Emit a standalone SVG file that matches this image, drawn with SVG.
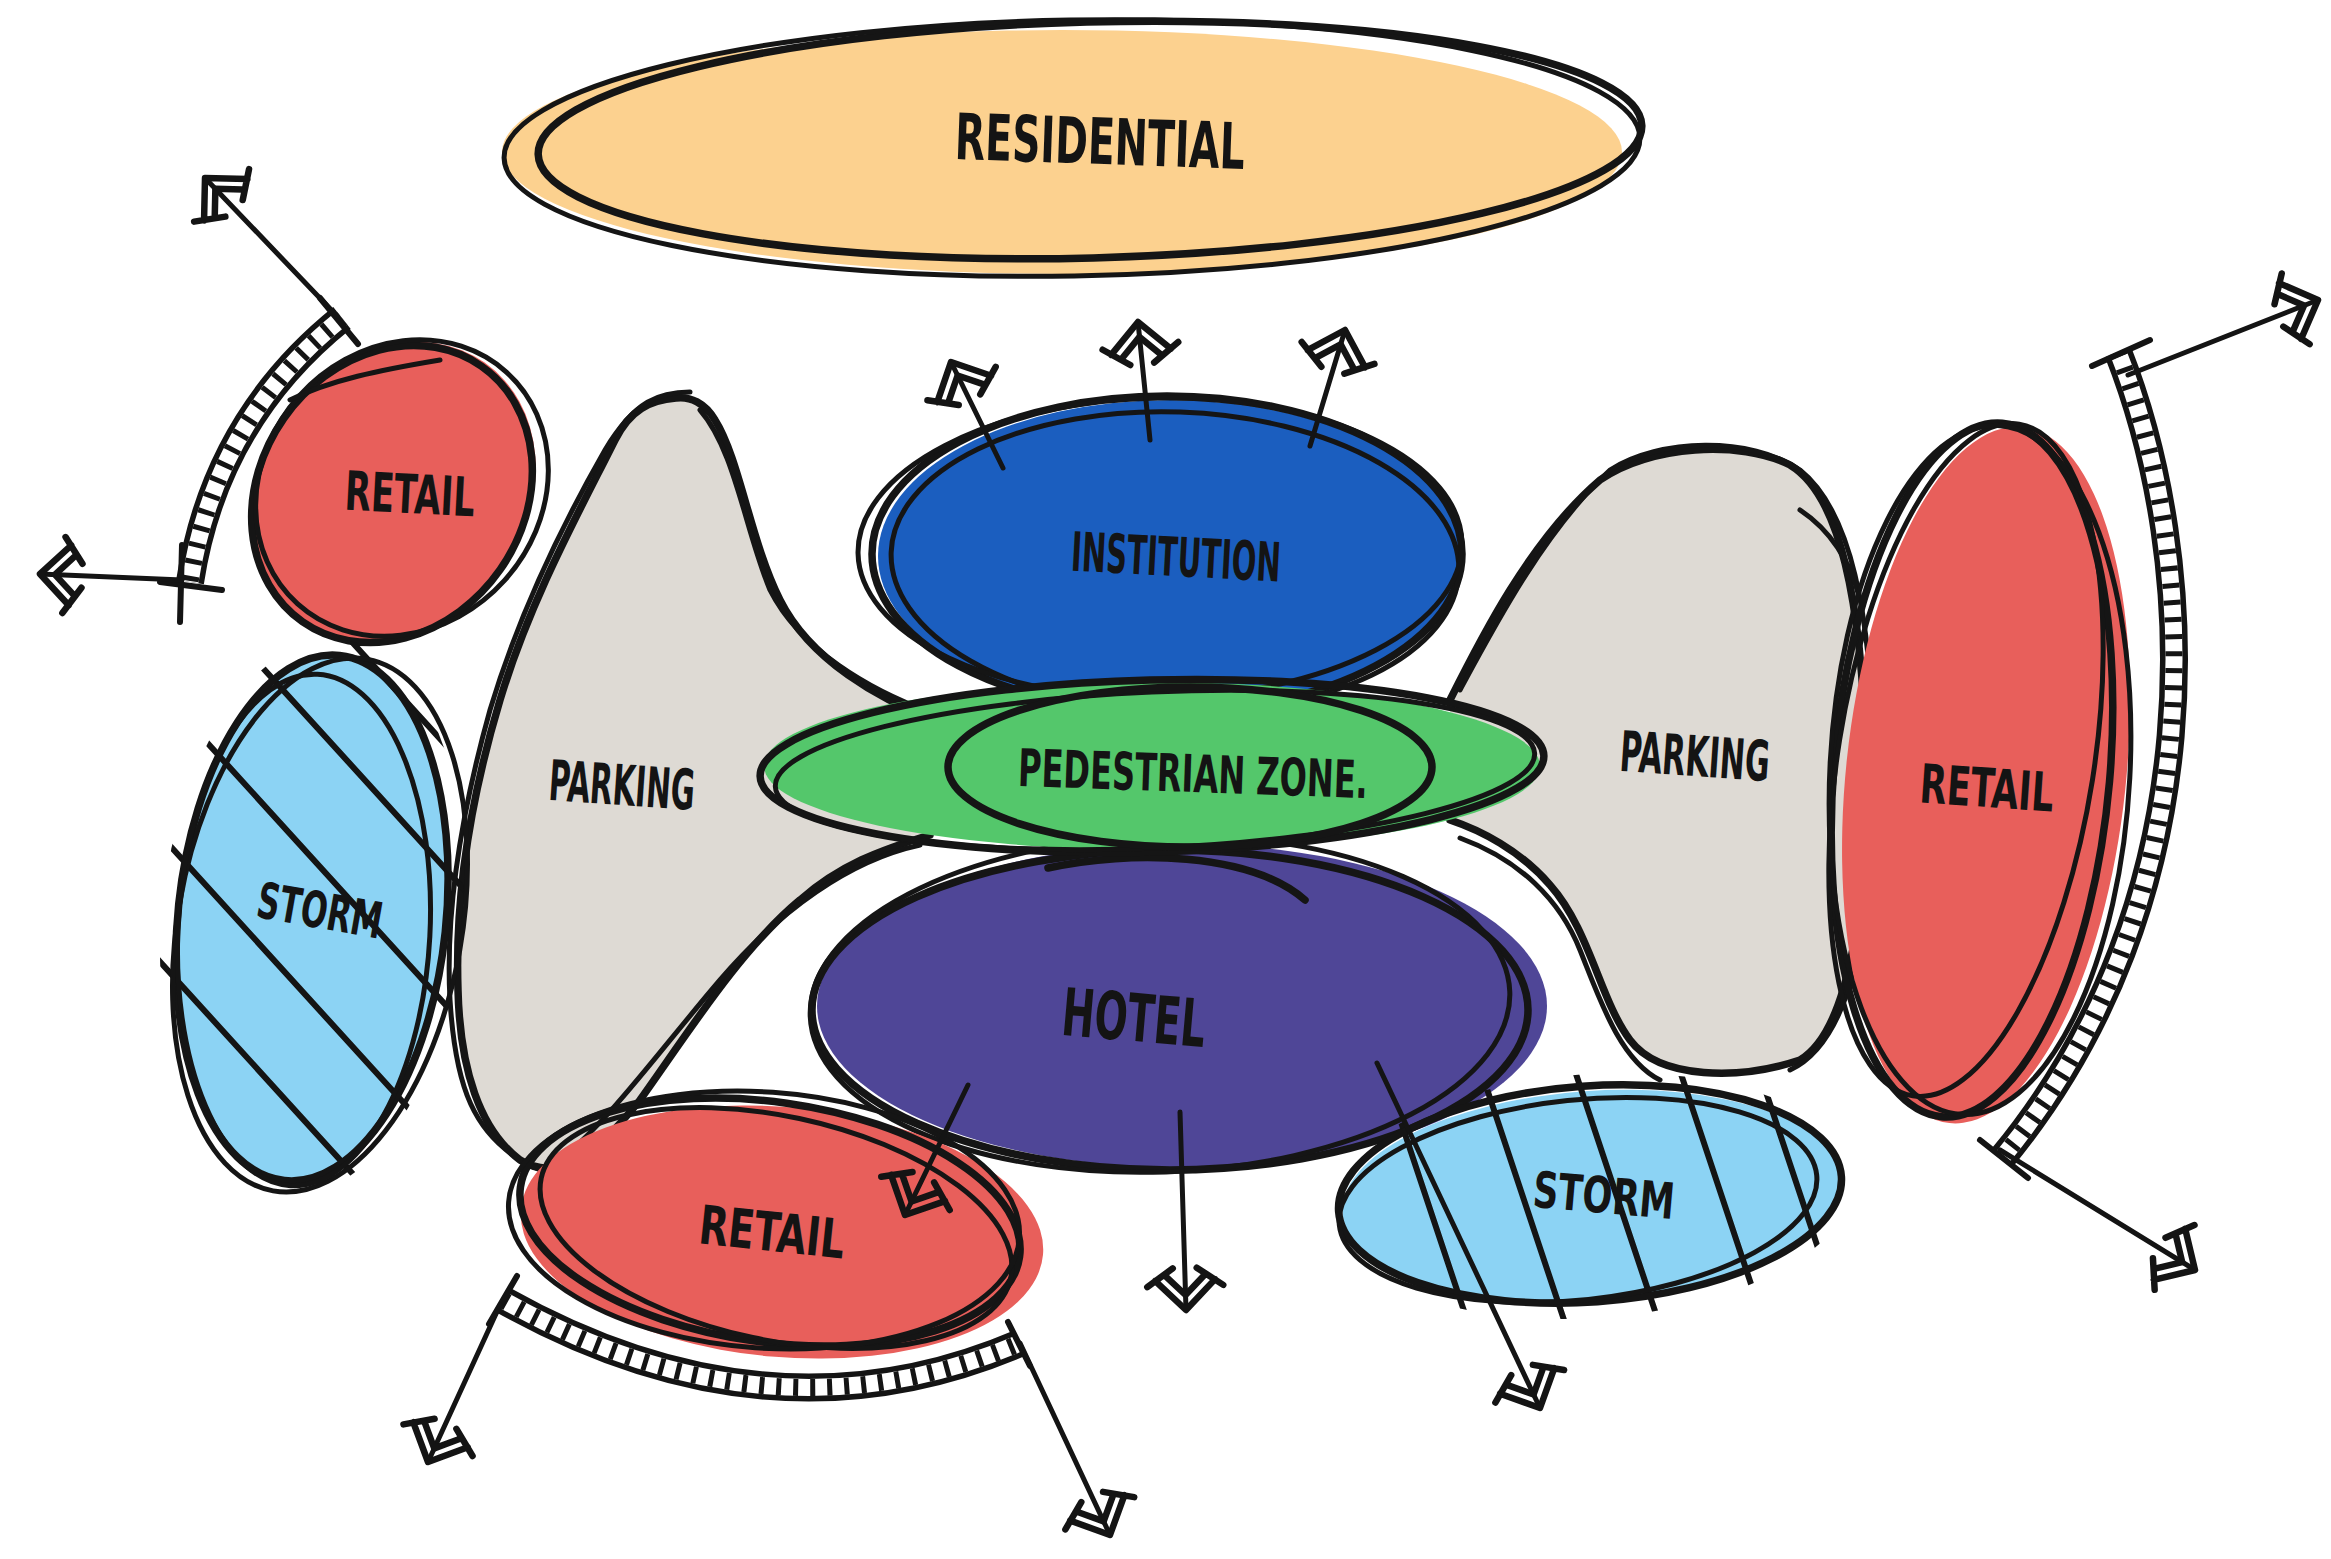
<svg xmlns="http://www.w3.org/2000/svg" width="2331" height="1559" viewBox="0 0 2331 1559">
<style>
.o{fill:none;stroke:#151515;stroke-width:7.5;stroke-linecap:round}
.o2{fill:none;stroke:#151515;stroke-width:5;stroke-linecap:round}
.lbl{font-family:"DejaVu Sans Condensed","DejaVu Sans",sans-serif;font-weight:bold;fill:#141414;text-anchor:middle}
.cn{stroke:#141414;stroke-width:5;fill:none;stroke-linecap:round;marker-end:url(#ah)}
.hl{stroke:#141414;stroke-width:6;stroke-linecap:round}
.r1{fill:none;stroke:#141414;stroke-width:28}
.r2{fill:none;stroke:#ffffff;stroke-width:17}
.r3{fill:none;stroke:#141414;stroke-width:17;stroke-dasharray:5 12}
.bar{stroke:#141414;stroke-width:6;stroke-linecap:round}
.red{fill:#E85F5B}
.blu{fill:#8CD3F4}
.gry{fill:#DEDAD4}
</style>
<defs>
<marker id="ah" markerUnits="userSpaceOnUse" markerWidth="100" markerHeight="100" viewBox="-50 -50 100 100" refX="0" refY="0" orient="auto" overflow="visible">
<path d="M -30 -30 L 0 0 L -30 30 M -15 0 L -34 -19 M -15 0 L -34 19 M -42 -12 L -24 -38 M -42 12 L -24 38" fill="none" stroke="#141414" stroke-width="6.5" stroke-linecap="round" stroke-linejoin="round"/>
</marker>
<clipPath id="clipSL"><ellipse cx="312" cy="918" rx="150" ry="280" transform="rotate(6 312 918)"/></clipPath>
<clipPath id="clipSB"><ellipse cx="1592" cy="1196" rx="262" ry="122" transform="rotate(-4 1592 1196)"/></clipPath>
<path id="arcL" d="M 342 318 Q 215 420 190 582"/>
<path id="arcR" d="M 2118 352 C 2200 560 2215 900 2002 1158"/>
<path id="arcB" d="M 503 1300 Q 770 1450 1020 1343"/>
</defs>
<rect width="2331" height="1559" fill="#ffffff"/>

<g id="residential">
<ellipse cx="1062" cy="152" rx="560" ry="122" fill="#FCD18F"/>
<ellipse class="o" cx="1090" cy="140" rx="552" ry="118" transform="rotate(-1.5 1090 140)"/>
<ellipse class="o2" cx="1072" cy="148" rx="568" ry="128" transform="rotate(-1 1072 148)"/>
<text class="lbl" x="1100" y="164" font-size="64" textLength="290" lengthAdjust="spacingAndGlyphs" transform="rotate(2 1100 141)">RESIDENTIAL</text>
</g>

<g id="parking-left">
<path class="gry" d="M 676 398 C 650 400 630 410 615 440 C 580 510 530 600 500 700 C 470 800 455 900 458 990 C 460 1070 480 1130 520 1160 C 560 1185 600 1150 640 1100 C 690 1030 740 950 800 900 C 840 865 880 850 930 835 L 935 720 C 880 700 810 660 780 600 C 750 540 740 460 715 420 C 705 403 690 396 676 398 Z"/>
<path class="o" d="M 676 398 C 650 400 630 410 615 440 C 580 510 530 600 500 700 C 470 800 455 900 458 990 C 460 1070 480 1130 520 1160 C 560 1185 600 1150 640 1100 C 690 1030 740 950 800 900 C 840 865 880 850 930 835 M 935 720 C 880 700 810 660 780 600 C 750 540 740 460 715 420 C 705 403 690 396 676 398"/>
<path class="o2" d="M 690 392 C 660 392 635 400 605 450 C 565 520 520 610 490 710 C 462 810 445 910 450 1000 C 455 1080 470 1140 540 1170 M 560 1160 C 610 1120 660 1050 720 980 C 780 910 850 860 920 845 M 930 712 C 870 690 800 650 770 590 C 745 530 735 450 700 410"/>
<text class="lbl" x="622" y="805" font-size="56" textLength="146" lengthAdjust="spacingAndGlyphs" transform="rotate(4 622 785)">PARKING</text>
</g>

<g id="parking-right">
<path class="gry" d="M 1450 700 C 1480 640 1530 540 1600 480 C 1650 445 1740 440 1790 465 C 1840 495 1862 600 1866 760 C 1868 900 1850 1030 1800 1060 C 1740 1080 1660 1080 1630 1040 C 1600 1000 1590 930 1550 885 C 1520 850 1480 830 1450 820 Z"/>
<path class="o" d="M 1450 700 C 1480 640 1530 540 1600 480 C 1650 445 1740 440 1790 465 C 1840 495 1862 600 1866 760 C 1868 900 1850 1030 1800 1060 C 1740 1080 1660 1080 1630 1040 C 1600 1000 1590 930 1550 885 C 1520 850 1480 830 1450 820"/>
<path class="o2" d="M 1460 690 C 1495 625 1545 530 1610 470 C 1660 438 1750 436 1800 470 C 1850 510 1872 610 1874 770 C 1874 910 1855 1040 1790 1070 M 1800 510 C 1830 530 1850 560 1860 600 M 1660 1080 C 1620 1060 1600 1000 1580 950 C 1560 900 1520 860 1460 838"/>
<text class="lbl" x="1695" y="776" font-size="56" textLength="150" lengthAdjust="spacingAndGlyphs" transform="rotate(4 1695 756)">PARKING</text>
</g>

<g id="retail-tl">
<ellipse class="red" cx="394" cy="492" rx="158" ry="133" transform="rotate(-55 394 492)"/>
<ellipse class="o" cx="392" cy="494" rx="156" ry="132" transform="rotate(-55 392 494)"/>
<ellipse class="o2" cx="402" cy="488" rx="156" ry="138" transform="rotate(-48 402 488)"/>
<path class="o2" d="M 290 400 C 330 380 380 370 440 360"/>
<text class="lbl" x="410" y="513" font-size="54" textLength="130" lengthAdjust="spacingAndGlyphs" transform="rotate(3 410 494)">RETAIL</text>
</g>

<g id="storm-left">
<ellipse class="blu" cx="312" cy="918" rx="134" ry="264" transform="rotate(6 312 918)"/>
<g clip-path="url(#clipSL)">
<line class="hl" x1="142" y1="411" x2="482" y2="785"/>
<line class="hl" x1="142" y1="535" x2="482" y2="909"/>
<line class="hl" x1="142" y1="671" x2="482" y2="1045"/>
<line class="hl" x1="142" y1="815" x2="482" y2="1189"/>
<line class="hl" x1="142" y1="942" x2="482" y2="1316"/>
</g>
<ellipse class="o" cx="312" cy="918" rx="134" ry="264" transform="rotate(6 312 918)"/>
<ellipse class="o2" cx="320" cy="925" rx="142" ry="270" transform="rotate(10 320 925)"/>
<ellipse class="o2" cx="304" cy="930" rx="126" ry="256" transform="rotate(3 304 930)"/>
<text class="lbl" x="320" y="928" font-size="50" textLength="126" lengthAdjust="spacingAndGlyphs" transform="rotate(10 320 910)">STORM</text>
</g>

<g id="institution">
<ellipse cx="1170" cy="556" rx="292" ry="156" fill="#1B5EBF"/>
<ellipse class="o" cx="1167" cy="554" rx="295" ry="158"/>
<ellipse class="o2" cx="1175" cy="562" rx="284" ry="150" transform="rotate(2 1175 562)"/>
<ellipse class="o2" cx="1160" cy="548" rx="302" ry="150" transform="rotate(-1 1160 548)"/>
<text class="lbl" x="1176" y="576" font-size="54" textLength="210" lengthAdjust="spacingAndGlyphs" transform="rotate(3 1176 557)">INSTITUTION</text>
</g>

<g id="hotel">
<ellipse cx="1182" cy="1006" rx="365" ry="162" fill="#4F4697"/>
<ellipse class="o" cx="1170" cy="1010" rx="358" ry="160"/>
<ellipse class="o2" cx="1160" cy="1004" rx="350" ry="168" transform="rotate(-2 1160 1004)"/>
<path class="o" d="M 1048 868 C 1130 850 1250 852 1305 900"/>
<text class="lbl" x="1134" y="1041" font-size="66" textLength="144" lengthAdjust="spacingAndGlyphs" transform="rotate(5 1134 1017)">HOTEL</text>
</g>

<g id="pedestrian-zone">
<ellipse cx="1152" cy="766" rx="388" ry="84" fill="#54C76B"/>
<ellipse class="o" cx="1152" cy="766" rx="392" ry="86" transform="rotate(-1.5 1152 766)"/>
<ellipse class="o2" cx="1155" cy="770" rx="380" ry="78" transform="rotate(-2.5 1155 770)"/>
<ellipse class="o" cx="1190" cy="767" rx="242" ry="80"/>
<text class="lbl" x="1193" y="792" font-size="52" textLength="350" lengthAdjust="spacingAndGlyphs" transform="rotate(2 1193 773)">PEDESTRIAN ZONE.</text>
</g>

<g id="retail-bottom">
<ellipse class="red" cx="782" cy="1232" rx="262" ry="125" transform="rotate(5 782 1232)"/>
<ellipse class="o" cx="770" cy="1222" rx="252" ry="120" transform="rotate(8 770 1222)"/>
<ellipse class="o2" cx="776" cy="1228" rx="240" ry="112" transform="rotate(12 776 1228)"/>
<ellipse class="o2" cx="764" cy="1220" rx="256" ry="128" transform="rotate(4 764 1220)"/>
<text class="lbl" x="772" y="1251" font-size="54" textLength="146" lengthAdjust="spacingAndGlyphs" transform="rotate(6 772 1232)">RETAIL</text>
</g>

<g id="retail-right">
<ellipse class="red" cx="1986" cy="775" rx="140" ry="350" transform="rotate(6 1986 775)"/>
<ellipse class="o" cx="1972" cy="770" rx="138" ry="348" transform="rotate(5 1972 770)"/>
<ellipse class="o2" cx="1966" cy="760" rx="128" ry="340" transform="rotate(9 1966 760)"/>
<ellipse class="o2" cx="1980" cy="770" rx="150" ry="345" transform="rotate(3 1980 770)"/>
<text class="lbl" x="1987" y="807" font-size="54" textLength="134" lengthAdjust="spacingAndGlyphs" transform="rotate(4 1987 788)">RETAIL</text>
</g>

<g id="storm-bottom">
<ellipse class="blu" cx="1592" cy="1196" rx="250" ry="105" transform="rotate(-4 1592 1196)"/>
<g clip-path="url(#clipSB)">
<line class="hl" x1="1380" y1="1059" x2="1470" y2="1329"/>
<line class="hl" x1="1477" y1="1059" x2="1567" y2="1329"/>
<line class="hl" x1="1571" y1="1059" x2="1661" y2="1329"/>
<line class="hl" x1="1676" y1="1059" x2="1766" y2="1329"/>
<line class="hl" x1="1755" y1="1059" x2="1845" y2="1329"/>
</g>
<ellipse class="o" cx="1590" cy="1194" rx="252" ry="108" transform="rotate(-4 1590 1194)"/>
<ellipse class="o2" cx="1578" cy="1200" rx="240" ry="100" transform="rotate(-6 1578 1200)"/>
<text class="lbl" x="1604" y="1213" font-size="50" textLength="142" lengthAdjust="spacingAndGlyphs" transform="rotate(5 1604 1195)">STORM</text>
</g>

<g id="edges">
<g id="rail-left"><use href="#arcL" class="r1"/><use href="#arcL" class="r2"/><use href="#arcL" class="r3"/></g>
<g id="rail-right"><use href="#arcR" class="r1"/><use href="#arcR" class="r2"/><use href="#arcR" class="r3"/></g>
<g id="rail-bottom"><use href="#arcB" class="r1"/><use href="#arcB" class="r2"/><use href="#arcB" class="r3"/></g>
<line class="bar" x1="320" y1="298" x2="358" y2="344"/>
<line class="bar" x1="160" y1="582" x2="222" y2="590"/>
<line class="bar" x1="182" y1="545" x2="180" y2="622"/>
<line class="bar" x1="2092" y1="366" x2="2150" y2="340"/>
<line class="bar" x1="1980" y1="1140" x2="2028" y2="1178"/>
<line class="bar" x1="517" y1="1276" x2="489" y2="1324"/>
<line class="bar" x1="1008" y1="1322" x2="1030" y2="1366"/>
<path class="cn" d="M 337 316 L 205 178"/>
<path class="cn" d="M 182 580 L 40 574"/>
<path class="cn" d="M 1003 468 L 951 362"/>
<path class="cn" d="M 1150 440 L 1138 322"/>
<path class="cn" d="M 1310 446 L 1345 330"/>
<path class="cn" d="M 2128 375 L 2318 300"/>
<path class="cn" d="M 2000 1150 L 2195 1270"/>
<path class="cn" d="M 968 1085 L 905 1215"/>
<path class="cn" d="M 1180 1112 L 1186 1310"/>
<path class="cn" d="M 1377 1063 L 1540 1408"/>
<path class="cn" d="M 500 1305 L 428 1462"/>
<path class="cn" d="M 1020 1343 L 1110 1535"/>
</g>
</svg>
